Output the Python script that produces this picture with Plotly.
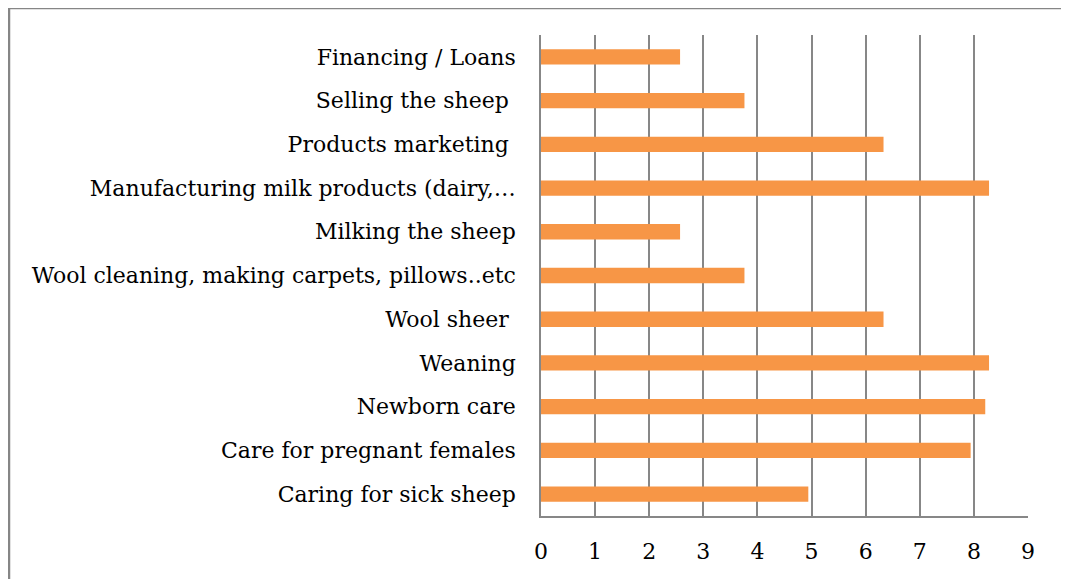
import plotly.graph_objects as go

categories = [
    "Caring for sick sheep",
    "Care for pregnant females",
    "Newborn care",
    "Weaning",
    "Wool sheer\u00a0",
    "Wool cleaning, making carpets, pillows..etc",
    "Milking the sheep",
    "Manufacturing milk products (dairy,\u2026",
    "Products marketing\u00a0",
    "Selling the sheep\u00a0",
    "Financing / Loans",
]
values = [4.94, 7.94, 8.21, 8.28, 6.33, 3.76, 2.57, 8.28, 6.33, 3.76, 2.57]
x_ticks = [0, 1, 2, 3, 4, 5, 6, 7, 8, 9]

# page has an 8px body margin; the figure is sized to fill the rest of the window
W, H = 1061, 571
ml, mr, mt, mb = 533, 41, 27, 63
pw, ph = W - ml - mr, H - mt - mb

fig = go.Figure(go.Bar(
    y=categories, x=values, orientation="h",
    marker=dict(color="#F79646", line=dict(width=0)),
    width=0.35,
))

grid = "#878787"
font_family = "DejaVu Serif, Liberation Serif, serif"

fig.update_layout(
    width=W, height=H,
    margin=dict(l=ml, r=mr, t=mt, b=mb),
    paper_bgcolor="white", plot_bgcolor="white",
    showlegend=False,
    font=dict(family=font_family, size=22, color="#000000"),
    xaxis=dict(
        range=[0, 9], tickvals=x_ticks, ticktext=[str(t) for t in x_ticks],
        showgrid=True, gridcolor=grid, gridwidth=1.5,
        showline=True, linecolor=grid, linewidth=1.5,
        zeroline=False, ticks="", ticklabelstandoff=15,
        tickfont=dict(size=22, family=font_family, color="#000000"),
        fixedrange=True,
    ),
    yaxis=dict(
        categoryorder="array", categoryarray=categories,
        range=[-0.5, 10.5],
        showgrid=False, showline=True, linecolor=grid, linewidth=1.5,
        ticks="", ticklabelstandoff=19,
        tickfont=dict(size=22, family=font_family, color="#000000"),
        fixedrange=True,
    ),
)

# outer chart border (extends beyond the visible canvas on right/bottom)
x0 = (1 - ml) / pw
y1 = (H - mb - 0) / ph
fig.add_shape(type="rect", xref="paper", yref="paper",
              x0=x0, x1=3.0, y0=-2.0, y1=y1,
              line=dict(color="#868686", width=2.5), layer="below")

fig.write_html("out.html")
